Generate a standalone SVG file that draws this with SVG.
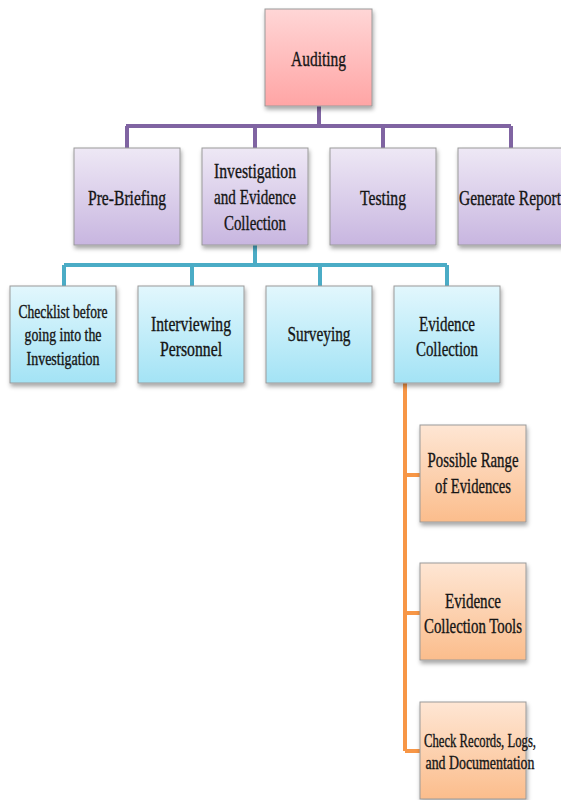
<svg xmlns="http://www.w3.org/2000/svg" width="561" height="800" viewBox="0 0 561 800">
<defs>
<linearGradient id="gPink" x1="0" y1="0" x2="0" y2="1"><stop offset="0" stop-color="#ffd6d6"/><stop offset="1" stop-color="#ffa5a5"/></linearGradient>
<linearGradient id="gPurple" x1="0" y1="0" x2="0" y2="1"><stop offset="0" stop-color="#eee8f5"/><stop offset="1" stop-color="#c8b6e0"/></linearGradient>
<linearGradient id="gBlue" x1="0" y1="0" x2="0" y2="1"><stop offset="0" stop-color="#e2f7fd"/><stop offset="1" stop-color="#a3e3f5"/></linearGradient>
<linearGradient id="gOrange" x1="0" y1="0" x2="0" y2="1"><stop offset="0" stop-color="#fee6d4"/><stop offset="1" stop-color="#fbbd8c"/></linearGradient>
<filter id="sh" x="-10%" y="-10%" width="130%" height="130%"><feDropShadow dx="1" dy="3" stdDeviation="2" flood-color="#000" flood-opacity="0.35"/></filter>
</defs>
<style>
.box{stroke:#9a9a9a;stroke-width:1;filter:url(#sh)}
.t{font-family:"Liberation Serif","DejaVu Serif",serif;font-size:21px;fill:#151515;stroke:#151515;stroke-width:0.35;text-anchor:middle}
.s{font-size:18px}
.lp{stroke:#8064a2;stroke-width:4;fill:none}
.lb{stroke:#4bacc6;stroke-width:4;fill:none}
.lo{stroke:#f79646;stroke-width:4;fill:none}
</style>
<rect width="561" height="800" fill="#fff"/>
<g id="connectors">
<path class="lp" d="M319 106V126M126 126H511M127 126V148M255 126V148M383 126V148M511 126V148"/>
<path class="lb" d="M255 245V265M64 265H447M64 265V286M192 265V286M320 265V286M447 265V286"/>
<path class="lo" d="M405 383V751M405 475H420M405 613H420M405 751H420"/>
</g>
<g id="auditing"><rect class="box" x="265" y="9" width="107" height="97" fill="url(#gPink)"/><text class="t" x="318.5" y="66" textLength="55" lengthAdjust="spacingAndGlyphs">Auditing</text></g>
<g id="prebriefing"><rect class="box" x="74" y="148" width="106" height="97" fill="url(#gPurple)"/><text class="t" x="127" y="205" textLength="78" lengthAdjust="spacingAndGlyphs">Pre-Briefing</text></g>
<g id="investigation"><rect class="box" x="202" y="148" width="106" height="97" fill="url(#gPurple)"/><text class="t" x="255" y="178" textLength="82" lengthAdjust="spacingAndGlyphs">Investigation</text><text class="t" x="255" y="204" textLength="82" lengthAdjust="spacingAndGlyphs">and Evidence</text><text class="t" x="255" y="230" textLength="62" lengthAdjust="spacingAndGlyphs">Collection</text></g>
<g id="testing"><rect class="box" x="330" y="148" width="106" height="97" fill="url(#gPurple)"/><text class="t" x="383" y="205" textLength="46" lengthAdjust="spacingAndGlyphs">Testing</text></g>
<g id="generatereport"><rect class="box" x="458" y="148" width="106" height="97" fill="url(#gPurple)"/><text class="t" x="510" y="205" textLength="102" lengthAdjust="spacingAndGlyphs">Generate Report</text></g>
<g id="checklist"><rect class="box" x="10" y="286" width="106" height="97" fill="url(#gBlue)"/><text class="t s" x="63" y="318" textLength="89" lengthAdjust="spacingAndGlyphs">Checklist before</text><text class="t s" x="63" y="341" textLength="77" lengthAdjust="spacingAndGlyphs">going into the</text><text class="t s" x="63" y="365" textLength="73" lengthAdjust="spacingAndGlyphs">Investigation</text></g>
<g id="interviewing"><rect class="box" x="138" y="286" width="106" height="97" fill="url(#gBlue)"/><text class="t" x="191" y="331" textLength="80" lengthAdjust="spacingAndGlyphs">Interviewing</text><text class="t" x="191" y="356" textLength="62" lengthAdjust="spacingAndGlyphs">Personnel</text></g>
<g id="surveying"><rect class="box" x="266" y="286" width="106" height="97" fill="url(#gBlue)"/><text class="t" x="319" y="341" textLength="63" lengthAdjust="spacingAndGlyphs">Surveying</text></g>
<g id="evidencecollection"><rect class="box" x="394" y="286" width="106" height="97" fill="url(#gBlue)"/><text class="t" x="447" y="331" textLength="56" lengthAdjust="spacingAndGlyphs">Evidence</text><text class="t" x="447" y="356" textLength="62" lengthAdjust="spacingAndGlyphs">Collection</text></g>
<g id="possiblerange"><rect class="box" x="420" y="425" width="106" height="97" fill="url(#gOrange)"/><text class="t" x="473" y="467" textLength="91" lengthAdjust="spacingAndGlyphs">Possible Range</text><text class="t" x="473" y="493" textLength="76" lengthAdjust="spacingAndGlyphs">of Evidences</text></g>
<g id="collectiontools"><rect class="box" x="420" y="563" width="106" height="97" fill="url(#gOrange)"/><text class="t" x="473" y="608" textLength="56" lengthAdjust="spacingAndGlyphs">Evidence</text><text class="t" x="473" y="633" textLength="98" lengthAdjust="spacingAndGlyphs">Collection Tools</text></g>
<g id="checkrecords"><rect class="box" x="420" y="702" width="106" height="97" fill="url(#gOrange)"/><text class="t s" x="480" y="747" textLength="112" lengthAdjust="spacingAndGlyphs">Check Records, Logs,</text><text class="t s" x="480" y="769" textLength="109" lengthAdjust="spacingAndGlyphs">and Documentation</text></g>
</svg>
